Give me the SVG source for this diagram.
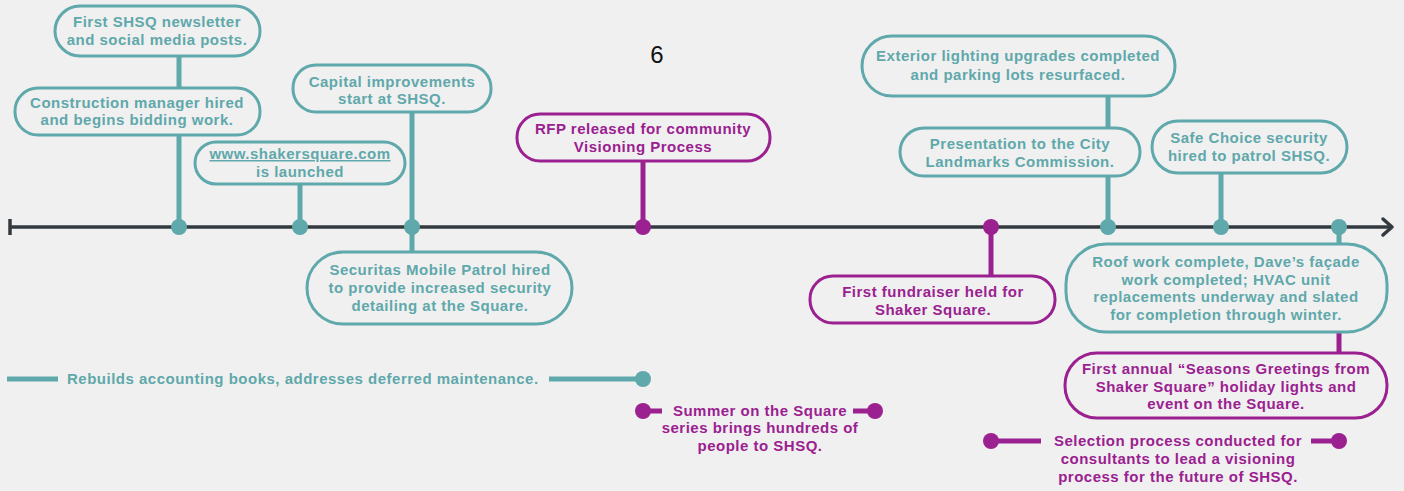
<svg xmlns="http://www.w3.org/2000/svg" width="1404" height="491" viewBox="0 0 1404 491">
<style>
.bg{fill:#f0f0f0}
.bt{fill:#f0f0f0;stroke:#5fa8ab;stroke-width:3}
.bm{fill:#f0f0f0;stroke:#9b2090;stroke-width:3}
.ct{stroke:#5fa8ab;stroke-width:5;fill:none}
.cm{stroke:#9b2090;stroke-width:5;fill:none}
.dt{fill:#5fa8ab}
.dm{fill:#9b2090}
text{font-family:"Liberation Sans",Arial,sans-serif;font-size:15px;letter-spacing:0.5px;font-weight:700;text-anchor:middle}
.tt{fill:#5fa8ab}
.tm{fill:#9b2090}
</style>
<rect class="bg" x="0" y="0" width="1404" height="491"/>
<g id="timeline">
<line x1="10" y1="227" x2="1390" y2="227" stroke="#333a3f" stroke-width="3.5"/>
<line x1="10" y1="219" x2="10" y2="235" stroke="#333a3f" stroke-width="3.5"/>
<polyline points="1383,219 1392,227 1383,235" fill="none" stroke="#333a3f" stroke-width="3.5" stroke-linecap="round" stroke-linejoin="round"/>
</g>
<g id="connectors">
<line class="ct" x1="179" y1="56" x2="179" y2="227"/>
<line class="ct" x1="300" y1="183" x2="300" y2="227"/>
<line class="ct" x1="412" y1="112" x2="412" y2="252"/>
<line class="cm" x1="643" y1="161" x2="643" y2="227"/>
<line class="cm" x1="991" y1="227" x2="991" y2="276"/>
<line class="ct" x1="1108" y1="96" x2="1108" y2="227"/>
<line class="ct" x1="1221" y1="173" x2="1221" y2="227"/>
<line class="ct" x1="1339" y1="227" x2="1339" y2="244"/>
<line class="cm" x1="1339" y1="332" x2="1339" y2="353"/>
<line class="ct" x1="7" y1="379" x2="58" y2="379"/>
<line class="ct" x1="549" y1="379" x2="643" y2="379"/>
<line class="cm" x1="643" y1="411" x2="662" y2="411"/>
<line class="cm" x1="853" y1="411" x2="875" y2="411"/>
<line class="cm" x1="991" y1="441" x2="1041" y2="441"/>
<line class="cm" x1="1311" y1="441" x2="1339" y2="441"/>
</g>
<g id="dots">
<circle class="dt" cx="179" cy="227" r="8"/>
<circle class="dt" cx="300" cy="227" r="8"/>
<circle class="dt" cx="412" cy="227" r="8"/>
<circle class="dm" cx="643" cy="227" r="8"/>
<circle class="dm" cx="991" cy="227" r="8"/>
<circle class="dt" cx="1108" cy="227" r="8"/>
<circle class="dt" cx="1221" cy="227" r="8"/>
<circle class="dt" cx="1339" cy="227" r="8"/>
<circle class="dt" cx="643" cy="379" r="8"/>
<circle class="dm" cx="643" cy="411" r="8"/>
<circle class="dm" cx="875" cy="411" r="8"/>
<circle class="dm" cx="991" cy="441" r="8"/>
<circle class="dm" cx="1339" cy="441" r="8"/>
</g>
<g id="page-number"><text x="657" y="63" style="font-weight:400;font-size:24px;letter-spacing:0;fill:#111">6</text></g>
<g id="newsletter">
<rect class="bt" x="55" y="6" width="205" height="50" rx="25"/>
<text class="tt" x="157" y="27">First SHSQ newsletter</text>
<text class="tt" x="157" y="45">and social media posts.</text>
</g>
<g id="construction">
<rect class="bt" x="15" y="88" width="245" height="47" rx="23"/>
<text class="tt" x="137" y="108">Construction manager hired</text>
<text class="tt" x="137" y="125">and begins bidding work.</text>
</g>
<g id="website">
<rect class="bt" x="195" y="142" width="210" height="42" rx="21"/>
<text class="tt" x="300" y="159" text-decoration="underline">www.shakersquare.com</text>
<text class="tt" x="300" y="177">is launched</text>
</g>
<g id="capital">
<rect class="bt" x="293" y="65" width="198" height="47" rx="23"/>
<text class="tt" x="392" y="87">Capital improvements</text>
<text class="tt" x="392" y="104">start at SHSQ.</text>
</g>
<g id="securitas">
<rect class="bt" x="307" y="252" width="265" height="72" rx="36"/>
<text class="tt" x="440" y="275">Securitas Mobile Patrol hired</text>
<text class="tt" x="440" y="293">to provide increased security</text>
<text class="tt" x="440" y="311">detailing at the Square.</text>
</g>
<g id="rfp">
<rect class="bm" x="517" y="114" width="253" height="47" rx="23"/>
<text class="tm" x="643" y="134">RFP released for community</text>
<text class="tm" x="643" y="152">Visioning Process</text>
</g>
<g id="exterior">
<rect class="bt" x="862" y="36" width="313" height="60" rx="30"/>
<text class="tt" x="1018" y="61">Exterior lighting upgrades completed</text>
<text class="tt" x="1018" y="80">and parking lots resurfaced.</text>
</g>
<g id="presentation">
<rect class="bt" x="900" y="128" width="240" height="48" rx="24"/>
<text class="tt" x="1020" y="149">Presentation to the City</text>
<text class="tt" x="1020" y="167">Landmarks Commission.</text>
</g>
<g id="safechoice">
<rect class="bt" x="1152" y="121" width="195" height="52" rx="26"/>
<text class="tt" x="1249" y="143">Safe Choice security</text>
<text class="tt" x="1249" y="161">hired to patrol SHSQ.</text>
</g>
<g id="fundraiser">
<rect class="bm" x="810" y="276" width="245" height="47" rx="23"/>
<text class="tm" x="933" y="297">First fundraiser held for</text>
<text class="tm" x="933" y="315">Shaker Square.</text>
</g>
<g id="roof">
<rect class="bt" x="1066" y="244" width="321" height="88" rx="40"/>
<text class="tt" x="1226" y="267">Roof work complete, Dave’s façade</text>
<text class="tt" x="1226" y="285">work completed; HVAC unit</text>
<text class="tt" x="1226" y="302">replacements underway and slated</text>
<text class="tt" x="1226" y="320">for completion through winter.</text>
</g>
<g id="seasons">
<rect class="bm" x="1065" y="353" width="322" height="65" rx="32"/>
<text class="tm" x="1226" y="374">First annual “Seasons Greetings from</text>
<text class="tm" x="1226" y="392">Shaker Square” holiday lights and</text>
<text class="tm" x="1226" y="409">event on the Square.</text>
</g>
<g id="rebuilds">
<text class="tt" x="67" y="384" style="text-anchor:start">Rebuilds accounting books, addresses deferred maintenance.</text>
</g>
<g id="summer">
<text class="tm" x="760" y="416">Summer on the Square</text>
<text class="tm" x="760" y="433">series brings hundreds of</text>
<text class="tm" x="760" y="451">people to SHSQ.</text>
</g>
<g id="selection">
<text class="tm" x="1178" y="446">Selection process conducted for</text>
<text class="tm" x="1178" y="464">consultants to lead a visioning</text>
<text class="tm" x="1178" y="482">process for the future of SHSQ.</text>
</g>
</svg>
